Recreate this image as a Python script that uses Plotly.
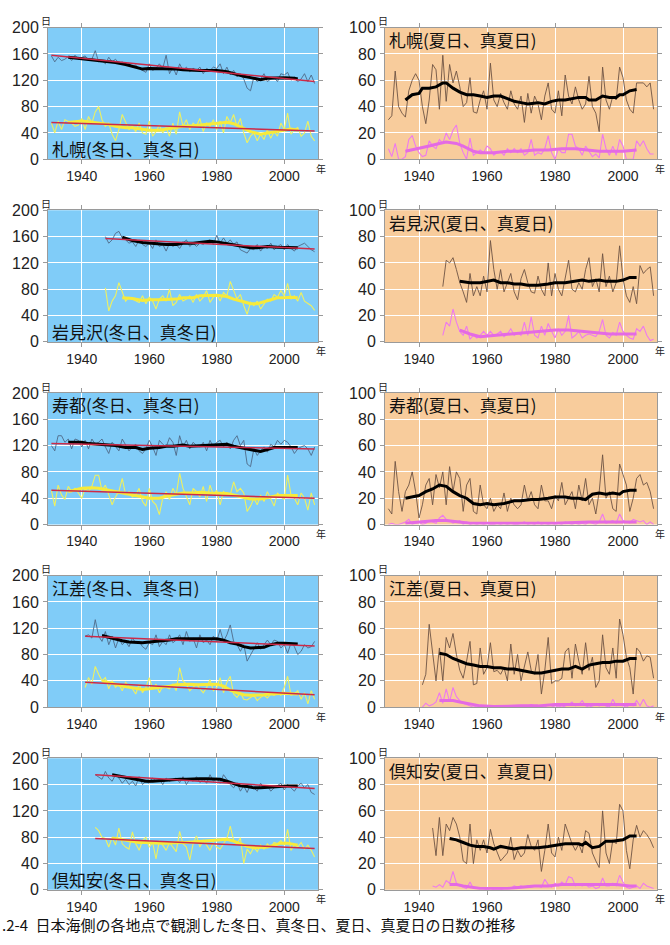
import plotly.graph_objects as go

# ======================= DATA =======================
# ---- 札幌 (Sapporo) ----
SAP_START = 1931
sap_fuyu = [157,148,155,150,152,156,150,158,152,155, 157,150,152,165,148,150,145,155,148,152,
            146,148,143,146,140,143,138,135,132,145, 135,138,145,138,158,130,140,128,145,135,
            140,133,138,135,140,130,138,135,140,138, 145,130,140,128,135,125,130,122,108,104,
            125,118,122,130,118,122,124,118,130,128, 132,120,125,118,122,130,118,128,115]
sap_mafuyu = [55,40,58,45,60,58,55,50,52,62, 45,65,55,72,80,60,50,55,38,28,
              45,68,55,45,50,42,55,40,38,58, 35,42,52,40,48,35,55,38,72,50,
              60,45,55,50,62,42,55,50,60,45, 58,40,65,55,68,50,62,40,25,35,
              40,28,38,30,45,32,42,35,55,45, 70,38,45,48,35,40,58,35,28]
sap_fuyu_ma_x = [1936,1938,1940,1942,1945,1948,1950,1953,1955,1958,1960,1963,1965,1968,1970,
                 1973,1975,1978,1980,1983,1985,1988,1990,1993,1995,1998,2000,2003,2004]
sap_fuyu_ma = [155,154,153,152,150,148,147,144,141,137,138,138,138,137,136,
               135,135,135,135,133,130,126,124,121,123,124,124,123,122]
sap_mafuyu_ma_x = [1936,1938,1940,1942,1945,1948,1950,1953,1955,1958,1960,1963,1965,1968,1970,
                   1973,1975,1978,1980,1983,1985,1988,1990,1993,1995,1998,2000,2002,2004]
sap_mafuyu_ma = [56,57,58,57,55,53,50,48,48,46,44,44,46,48,50,
                 51,52,53,54,56,54,47,42,38,40,43,45,46,44]
sap_fuyu_trend_x = [1931, 2009]
sap_fuyu_trend = [158, 118]
sap_mafuyu_trend_x = [1931, 2009]
sap_mafuyu_trend = [56, 43]

sap_natsu = [30,33,67,40,35,32,52,60,65,60, 40,27,45,72,68,38,79,44,72,58,
             67,55,40,43,62,36,35,45,52,38, 73,45,40,50,43,38,52,42,38,48,
             28,50,35,48,42,30,48,58,38,35, 52,33,64,48,42,55,45,38,42,63,
             40,35,21,70,45,38,48,45,70,62, 45,38,35,58,58,58,55,58,38]
sap_manatsu = [8,2,12,0,0,2,15,18,10,5, 2,3,14,10,8,15,12,20,15,22,
               26,12,5,0,16,3,5,7,5,10, 8,3,5,6,3,8,5,8,5,8,
               3,5,15,3,5,4,8,18,5,0, 8,5,5,19,19,10,8,3,10,6,
               2,4,1,19,8,3,10,3,15,10, 0,0,0,14,10,14,8,4,4]
sap_natsu_ma_x = [1936,1938,1940,1941,1943,1945,1947,1948,1950,1952,1954,1956,1958,1960,1962,
                  1964,1966,1968,1970,1972,1975,1977,1979,1981,1983,1985,1987,1989,1990,1992,
                  1994,1996,1998,1999,2000,2002,2004]
sap_natsu_ma = [45,49,50,54,54,55,58,58,54,51,49,49,48,47,48,
                48,46,44,43,42,43,42,44,45,45,46,47,47,45,45,
                48,47,47,49,49,52,53]
sap_manatsu_ma_x = [1936,1940,1943,1946,1948,1951,1953,1956,1958,1962,1966,1970,1974,1978,1982,
                    1986,1990,1993,1996,2000,2004]
sap_manatsu_ma = [6,8,10,12,13,12,10,6,5,5,6,6,7,7,8,8,7,6,6,6,7]

# ---- 岩見沢 (Iwamizawa) ----
IWA_START = 1947
iwa_fuyu = [160,150,155,165,168,158,155,150,152,145, 155,148,145,150,142,155,145,148,138,150,
            145,148,142,150,155,145,150,145,150,148, 152,155,148,162,150,158,150,155,148,152,
            140,138,135,142,140,148,138,145,142,150, 140,145,148,140,148,142,138,145,148,150,
            145,140,137]
iwa_mafuyu = [82,47,62,70,90,75,62,68,65,62, 60,70,58,68,62,50,65,70,62,80,
              55,60,72,62,65,70,60,72,62,68, 78,60,68,72,62,75,70,92,78,65,
              72,55,42,60,55,62,50,58,65,62, 72,68,78,70,89,65,70,62,75,62,
              58,55,48]
iwa_fuyu_ma_x = [1952,1955,1958,1960,1963,1965,1968,1970,1973,1975,1978,1980,1982,1985,1987,
                 1990,1992,1995,1998,2000,2002,2004]
iwa_fuyu_ma = [159,154,151,150,149,148,148,150,150,151,153,152,150,147,145,
               143,143,145,144,144,144,143]
iwa_mafuyu_ma_x = [1952,1955,1958,1960,1963,1966,1968,1970,1973,1975,1978,1980,1983,1985,1988,
                   1990,1992,1995,1998,2000,2002,2004]
iwa_mafuyu_ma = [67,66,63,64,64,64,65,67,67,70,70,71,69,65,61,58,58,62,67,67,68,67]
iwa_fuyu_trend_x = [1947, 2009]
iwa_fuyu_trend = [157, 141]

iwa_natsu = [42,62,60,64,55,45,38,30,52,35, 42,35,50,38,77,55,40,55,38,45,
             52,38,32,48,55,45,38,37,50,40, 35,60,35,52,40,35,50,62,40,38,
             45,40,55,64,42,48,38,67,42,50, 38,45,73,48,35,30,42,29,58,52,
             55,57,35]
iwa_manatsu = [5,15,12,25,15,8,5,12,2,5, 3,5,8,5,8,5,6,8,4,6,
               10,5,7,5,15,5,19,5,3,12, 5,14,8,3,10,5,8,20,3,5,
               8,3,5,6,5,4,8,17,5,3, 7,5,15,8,5,3,2,10,8,12,
               5,1,2]
iwa_natsu_ma_x = [1952,1955,1958,1960,1962,1964,1966,1968,1970,1972,1975,1978,1980,1983,1986,
                  1988,1990,1993,1995,1998,2000,2002,2004]
iwa_natsu_ma = [46,45,45,46,47,45,45,44,44,43,43,44,45,45,46,47,46,47,46,46,47,49,49]
iwa_manatsu_ma_x = [1952,1955,1958,1962,1966,1970,1975,1980,1984,1988,1992,1996,2000,2004]
iwa_manatsu_ma = [9,6,4,5,6,7,8,9,9,8,7,6,6,6]

# ---- 寿都 (Suttsu) ----
SUT_START = 1931
sut_fuyu = [120,112,135,135,125,130,115,130,128,118, 128,115,130,122,125,130,118,108,125,118,
            112,130,120,112,118,122,112,108,115,128, 118,105,128,122,118,132,125,105,135,118,
            128,115,125,120,118,125,112,128,118,125, 128,118,125,115,128,135,120,128,92,88,
            115,105,112,118,110,122,118,128,122,128, 125,118,108,115,118,120,115,105,118]
sut_mafuyu = [52,28,60,45,38,58,50,55,48,40, 55,50,58,75,75,52,60,45,30,42,
              50,70,45,50,42,45,55,35,28,55, 35,30,15,40,50,38,55,45,78,55,
              42,30,55,50,42,58,35,60,45,52, 30,50,45,45,65,50,55,48,20,28,
              40,30,45,35,50,40,28,48,42,38, 75,45,40,30,48,40,22,48,30]
sut_fuyu_ma_x = [1936,1940,1942,1945,1948,1950,1953,1956,1958,1960,1963,1965,1967,1970,1972,
                 1975,1978,1980,1983,1985,1988,1990,1993,1995,1997,2000,2004]
sut_fuyu_ma = [125,125,123,122,121,120,117,117,114,116,117,119,119,121,119,
               120,120,121,122,119,116,114,111,114,117,117,117]
sut_mafuyu_ma_x = [1936,1940,1943,1945,1948,1950,1953,1955,1958,1960,1963,1965,1968,1970,1973,
                   1975,1978,1980,1983,1985,1988,1990,1993,1995,1998,2000,2004]
sut_mafuyu_ma = [50,55,56,55,52,50,47,45,42,40,40,43,46,48,48,
                 49,48,48,47,45,42,39,39,41,44,44,44]
sut_fuyu_trend_x = [1931, 2009]
sut_fuyu_trend = [123, 115]
sut_mafuyu_trend_x = [1931, 2009]
sut_mafuyu_trend = [52, 40]

sut_natsu = [12,8,48,25,10,25,30,40,25,5, 15,30,35,15,38,28,40,15,44,25,
             40,35,10,30,35,10,8,30,15,12, 20,10,15,12,24,10,20,15,12,15,
             30,18,25,15,12,30,18,18,12,22, 18,32,15,20,25,12,30,18,35,15,
             20,8,25,53,20,25,12,10,46,38, 30,10,20,35,38,30,32,25,12]
sut_manatsu = [0,1,0,0,1,2,4,0,1,2, 0,1,3,2,1,5,7,4,3,1,
               2,3,0,2,0,1,0,1,0,1, 0,0,1,0,1,0,1,0,0,1,
               2,0,1,0,2,0,1,0,1,0, 1,0,2,1,0,1,0,1,0,2,
               1,0,2,8,1,2,3,1,8,3, 2,1,4,3,2,3,0,2,0]
sut_natsu_ma_x = [1936,1938,1940,1942,1944,1946,1948,1950,1952,1954,1956,1958,1960,1962,1965,
                  1968,1970,1973,1975,1978,1980,1983,1985,1987,1989,1991,1993,1995,1997,1999,
                  2000,2002,2004]
sut_natsu_ma = [20,21,22,25,27,30,29,25,22,20,16,15,16,15,16,
                18,18,19,19,20,21,21,20,20,19,23,24,23,24,23,
                25,26,26]
sut_manatsu_ma_x = [1936,1940,1945,1948,1952,1955,1960,1970,1980,1990,1995,2000,2004]
sut_manatsu_ma = [1,2,3,3,2,1,1,1,1,2,2,2,2]

# ---- 江差 (Esashi) ----
ESA_START = 1941
esa_fuyu = [108,110,105,133,108,100,115,95,108,90, 105,95,100,92,105,98,100,92,88,98,
            95,110,92,100,95,110,98,102,110,95, 115,100,105,90,110,98,102,95,108,100,
            118,100,110,125,100,95,85,95,70,80, 90,98,88,95,102,95,102,100,90,95,
            82,98,92,80,85,95,90,92,100]
esa_mafuyu = [30,45,35,62,50,40,45,28,40,30, 35,25,38,32,28,20,35,22,30,45,
              28,35,22,32,30,28,35,25,60,40, 35,25,30,35,28,22,30,42,25,30,
              45,22,38,47,20,15,22,12,11,15, 18,10,15,18,14,20,18,22,18,30,
              47,18,20,25,12,22,5,25,12]
esa_fuyu_ma_x = [1946,1948,1950,1952,1954,1956,1958,1960,1962,1964,1966,1968,1970,1972,1974,
                 1976,1978,1980,1982,1984,1986,1988,1990,1992,1994,1996,1998,2000,2004]
esa_fuyu_ma = [109,106,103,101,99,98,98,99,100,100,102,104,104,103,103,
               103,104,104,102,98,96,92,90,90,91,95,97,97,96]
esa_mafuyu_ma_x = [1946,1948,1950,1952,1954,1956,1958,1960,1962,1964,1966,1968,1970,1972,1974,
                   1976,1978,1980,1982,1984,1986,1988,1990,1992,1994,1996,1998,2000,2004]
esa_mafuyu_ma = [40,38,35,32,30,28,27,28,29,30,32,34,35,35,34,
                 34,35,35,32,26,22,19,18,18,19,20,21,21,20]
esa_fuyu_trend_x = [1941, 2009]
esa_fuyu_trend = [108, 93]
esa_mafuyu_trend_x = [1941, 2009]
esa_mafuyu_trend = [38, 19]

esa_natsu = [17,25,63,40,20,45,20,53,45,56, 40,28,22,35,50,17,18,45,25,30,
             49,27,28,25,30,20,48,25,40,20, 30,42,28,25,40,10,28,53,18,20,
             20,22,42,45,22,48,35,25,49,28, 38,15,20,55,30,25,45,22,67,55,
             38,30,10,45,42,35,39,38,22]
esa_manatsu = [0,3,1,2,4,11,3,14,4,15, 8,5,3,2,1,0,1,0,1,0,
               0,1,0,0,1,0,1,0,0,1, 0,1,2,1,0,1,0,2,1,0,
               1,0,1,2,4,1,2,5,1,0, 1,2,1,2,1,0,6,1,2,1,
               0,2,1,5,1,6,1,0,1]
esa_natsu_ma_x = [1946,1948,1950,1952,1954,1956,1958,1960,1962,1964,1966,1968,1970,1972,1974,
                  1976,1978,1980,1982,1984,1986,1988,1990,1992,1994,1996,1998,2000,2002,2004]
esa_natsu_ma = [41,40,37,35,33,32,31,31,30,30,29,29,28,27,26,
                26,27,28,29,29,31,29,32,33,34,34,35,35,37,37]
esa_manatsu_ma_x = [1946,1948,1950,1952,1954,1956,1958,1962,1966,1970,1975,1980,1985,1990,1995,
                    2000,2004]
esa_manatsu_ma = [5,5,5,4,3,2,1,0.5,1,1,1,2,2,2,2,2,2]

# ---- 倶知安 (Kutchan) ----
KUT_START = 1944
kut_fuyu = [175,172,168,180,170,165,175,170,162,168, 160,165,158,172,160,165,162,170,165,168,
            160,170,165,168,170,163,172,160,168,165, 172,163,168,162,175,165,170,162,175,168,
            160,155,163,150,158,148,160,155,150,162, 155,158,150,155,158,162,152,160,155,150,
            158,162,155,160,148,145]
kut_mafuyu = [95,90,80,78,65,80,68,94,70,65, 62,88,70,60,75,80,65,72,47,75,
              68,60,72,65,58,89,70,65,45,70, 82,65,75,68,60,72,65,62,70,78,
              97,75,70,79,40,62,55,65,58,68, 62,70,65,72,70,75,68,92,60,68,
              65,72,62,68,60,50]
kut_fuyu_ma_x = [1949,1951,1953,1955,1957,1959,1961,1963,1965,1967,1969,1971,1973,1975,1977,
                 1979,1981,1983,1985,1987,1989,1991,1993,1995,1997,1999,2001,2004]
kut_fuyu_ma = [175,173,171,169,167,165,165,166,167,168,168,168,169,169,169,
               169,168,165,161,158,157,155,155,156,157,157,158,158]
kut_mafuyu_ma_x = [1949,1951,1953,1955,1957,1959,1961,1963,1965,1967,1969,1971,1973,1975,1977,
                   1979,1981,1983,1985,1987,1989,1991,1993,1995,1997,1999,2001,2004]
kut_mafuyu_ma = [79,77,75,73,72,72,71,71,71,72,72,72,73,74,75,
                 75,76,77,74,70,66,64,64,65,68,71,71,68]
kut_fuyu_trend_x = [1944, 2009]
kut_fuyu_trend = [175, 154]
kut_mafuyu_trend_x = [1944, 2009]
kut_mafuyu_trend = [78, 63]

kut_natsu = [47,26,55,26,50,45,55,50,40,22, 20,50,20,38,30,38,28,46,35,28,
             22,25,28,40,23,30,25,28,42,33, 30,38,14,30,50,28,25,40,30,50,
             42,35,30,35,28,45,43,28,22,17, 60,28,20,38,35,65,60,30,16,38,
             49,40,45,42,38,32]
kut_manatsu = [3,2,4,2,7,5,14,5,3,2, 1,6,1,1,1,1,0,1,0,0,
               0,1,1,1,3,2,3,2,3,2, 3,3,2,8,4,2,5,3,6,4,
               10,9,3,4,3,4,2,3,1,2, 9,3,3,5,3,11,6,2,1,2,
               3,1,5,3,2,1]
kut_natsu_ma_x = [1949,1951,1953,1955,1957,1959,1961,1962,1964,1966,1968,1970,1972,1975,1978,
                  1980,1983,1985,1987,1988,1989,1990,1991,1993,1995,1997,1999,2000,2002,2004]
kut_natsu_ma = [39,38,36,34,33,33,32,31,33,32,31,32,32,32,33,
                34,35,35,35,34,36,34,32,33,37,37,38,38,41,41]
kut_manatsu_ma_x = [1949,1951,1953,1956,1958,1962,1966,1970,1974,1978,1982,1986,1990,1994,1998,
                    2002,2004]
kut_manatsu_ma = [4,4,3,2,1,1,1,2,3,3,4,4,4,4,4,3,3]

# Labels / ticks
winter_titles = ["札幌(冬日、真冬日)", "岩見沢(冬日、真冬日)", "寿都(冬日、真冬日)",
                 "江差(冬日、真冬日)", "倶知安(冬日、真冬日)"]
summer_titles = ["札幌(夏日、真夏日)", "岩見沢(夏日、真夏日)", "寿都(夏日、真夏日)",
                 "江差(夏日、真夏日)", "倶知安(夏日、真夏日)"]
winter_title_pos = ["bottom", "bottom", "top", "top", "bottom"]
x_ticks = [1940, 1960, 1980, 2000]
winter_y_ticks = [0, 40, 80, 120, 160, 200]
summer_y_ticks = [0, 20, 40, 60, 80, 100]
caption = ".2-4\u2002日本海側の各地点で観測した冬日、真冬日、夏日、真夏日の日数の推移"

# ======================= FIGURE =======================
W, H = 670, 945
COL_X = [(48, 318), (385, 657)]
ROW_TOP0, ROW_H, ROW_STEP = 20, 134, 186

WIN_BG = "#80ccf8"
SUM_BG = "#f8cc9c"
C_FUYU = "#4f6a88"
C_MAFUYU = "#eef060"
C_MAFUYU_MA = "#f7ea3a"
C_NATSU = "#6e5444"
C_MANATSU = "#ee7aee"
C_MANATSU_MA = "#e46ae4"
C_TREND = "#cc2a48"

JP_FONT = "Noto Sans CJK JP"
NUM_FONT = "Liberation Sans, Arial, sans-serif"

winter = [
    (SAP_START, sap_fuyu, sap_mafuyu, sap_fuyu_ma_x, sap_fuyu_ma, sap_mafuyu_ma_x, sap_mafuyu_ma,
     [(sap_fuyu_trend_x, sap_fuyu_trend), (sap_mafuyu_trend_x, sap_mafuyu_trend)]),
    (IWA_START, iwa_fuyu, iwa_mafuyu, iwa_fuyu_ma_x, iwa_fuyu_ma, iwa_mafuyu_ma_x, iwa_mafuyu_ma,
     [(iwa_fuyu_trend_x, iwa_fuyu_trend)]),
    (SUT_START, sut_fuyu, sut_mafuyu, sut_fuyu_ma_x, sut_fuyu_ma, sut_mafuyu_ma_x, sut_mafuyu_ma,
     [(sut_fuyu_trend_x, sut_fuyu_trend), (sut_mafuyu_trend_x, sut_mafuyu_trend)]),
    (ESA_START, esa_fuyu, esa_mafuyu, esa_fuyu_ma_x, esa_fuyu_ma, esa_mafuyu_ma_x, esa_mafuyu_ma,
     [(esa_fuyu_trend_x, esa_fuyu_trend), (esa_mafuyu_trend_x, esa_mafuyu_trend)]),
    (KUT_START, kut_fuyu, kut_mafuyu, kut_fuyu_ma_x, kut_fuyu_ma, kut_mafuyu_ma_x, kut_mafuyu_ma,
     [(kut_fuyu_trend_x, kut_fuyu_trend), (kut_mafuyu_trend_x, kut_mafuyu_trend)]),
]
summer = [
    (SAP_START, sap_natsu, sap_manatsu, sap_natsu_ma_x, sap_natsu_ma, sap_manatsu_ma_x, sap_manatsu_ma),
    (IWA_START, iwa_natsu, iwa_manatsu, iwa_natsu_ma_x, iwa_natsu_ma, iwa_manatsu_ma_x, iwa_manatsu_ma),
    (SUT_START, sut_natsu, sut_manatsu, sut_natsu_ma_x, sut_natsu_ma, sut_manatsu_ma_x, sut_manatsu_ma),
    (ESA_START, esa_natsu, esa_manatsu, esa_natsu_ma_x, esa_natsu_ma, esa_manatsu_ma_x, esa_manatsu_ma),
    (KUT_START, kut_natsu, kut_manatsu, kut_natsu_ma_x, kut_natsu_ma, kut_manatsu_ma_x, kut_manatsu_ma),
]

fig = go.Figure()
layout = dict(width=W, height=H, margin=dict(l=0, r=0, t=0, b=0),
              paper_bgcolor="white", plot_bgcolor="white", showlegend=False)
shapes, annotations = [], []


def yrs(start, vals):
    return list(range(start, start + len(vals)))


def line(x, y, color, width, k):
    sfx = "" if k == 1 else str(k)
    fig.add_trace(go.Scatter(x=x, y=y, mode="lines", line=dict(color=color, width=width),
                             xaxis="x" + sfx, yaxis="y" + sfx, hoverinfo="skip"))


for r in range(5):
    top = ROW_TOP0 + r * ROW_STEP
    bot = top + ROW_H
    ydom = [1 - bot / H, 1 - top / H]
    for c in range(2):
        k = 2 * r + c + 1
        sfx = "" if k == 1 else str(k)
        x0, x1 = COL_X[c]
        is_w = c == 0
        yt = winter_y_ticks if is_w else summer_y_ticks
        common = dict(showgrid=True, gridcolor="white", gridwidth=1.4, zeroline=False,
                      showline=True, linecolor="#9a9a9a", linewidth=1, mirror="allticks",
                      ticks="outside", ticklen=4, tickcolor="#9a9a9a")
        layout["xaxis" + sfx] = dict(domain=[x0 / W, x1 / W], range=[1930, 2010],
                                     tickvals=x_ticks, anchor="y" + sfx, ticklabelstandoff=0,
                                     tickfont=dict(family=NUM_FONT, size=14, color="#222"),
                                     **common)
        layout["yaxis" + sfx] = dict(domain=ydom, range=[0, yt[-1]], tickvals=yt,
                                     anchor="x" + sfx, ticklabelstandoff=1,
                                     tickfont=dict(family=NUM_FONT, size=16, color="#222"),
                                     **common)
        shapes.append(dict(type="rect", xref="x" + sfx + " domain", yref="y" + sfx + " domain",
                           x0=0, x1=1, y0=0, y1=1, fillcolor=WIN_BG if is_w else SUM_BG,
                           line=dict(width=0), layer="below"))
        if is_w:
            st, a, b, ax, am, bx, bm, trends = winter[r]
            line(yrs(st, a), a, C_FUYU, 0.9, k)
            line(yrs(st, b), b, C_MAFUYU, 1.1, k)
            line(bx, bm, C_MAFUYU_MA, 3, k)
            line(ax, am, "black", 3, k)
            for tx, ty in trends:
                line(tx, ty, C_TREND, 1.5, k)
            title = winter_titles[r]
            pos = winter_title_pos[r]
        else:
            st, a, b, ax, am, bx, bm = summer[r]
            line(yrs(st, a), a, C_NATSU, 0.9, k)
            line(yrs(st, b), b, C_MANATSU, 1.1, k)
            line(bx, bm, C_MANATSU_MA, 3, k)
            line(ax, am, "black", 3, k)
            title = summer_titles[r]
            pos = "top"
        ty_px = top + 12 if pos == "top" else bot - 11
        annotations.append(dict(text=title, xref="paper", yref="paper", x=(x0 + 2) / W,
                                y=1 - ty_px / H, xanchor="left", yanchor="middle",
                                showarrow=False, font=dict(family=JP_FONT, size=17, color="#111")))
        annotations.append(dict(text="日", xref="paper", yref="paper", x=(x0 - 2) / W,
                                y=1 - (top - 7) / H, xanchor="center", yanchor="middle",
                                showarrow=False, font=dict(family=JP_FONT, size=10, color="#222")))
        annotations.append(dict(text="年", xref="paper", yref="paper", x=(x1 + 3) / W,
                                y=1 - (bot + 9) / H, xanchor="center", yanchor="middle",
                                showarrow=False, font=dict(family=JP_FONT, size=10, color="#222")))

annotations.append(dict(text=caption, xref="paper", yref="paper", x=0, y=1 - 933 / H,
                        xanchor="left", yanchor="middle", showarrow=False,
                        font=dict(family=JP_FONT, size=15, color="#111")))

layout["shapes"] = shapes
layout["annotations"] = annotations
fig.update_layout(**layout)
fig.write_html("out.html")
